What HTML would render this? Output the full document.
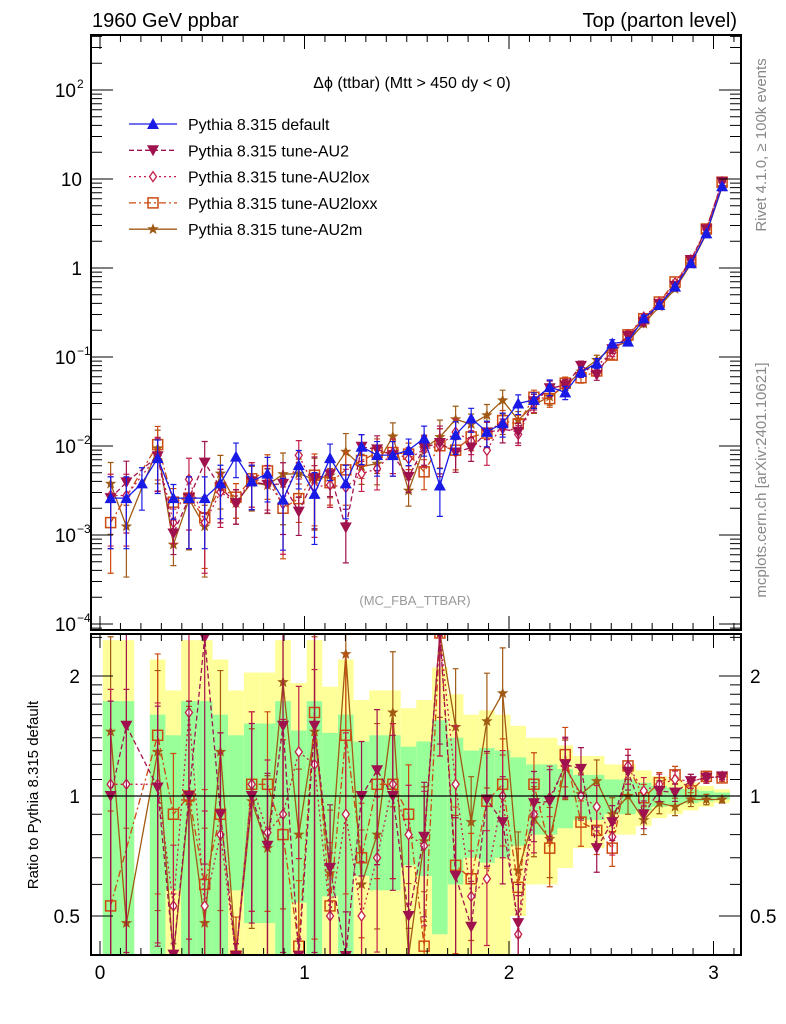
<!DOCTYPE html>
<html><head><meta charset="utf-8"><style>
html,body{margin:0;background:#fff;overflow:hidden;width:786px;height:1024px}
svg{display:block;font-family:"Liberation Sans",sans-serif}
</style></head><body>
<svg id="c" width="786" height="1024" viewBox="0 0 786 1024">
<defs>
<clipPath id="cm"><rect x="91" y="35" width="650" height="595"/></clipPath>
<clipPath id="cr"><rect x="91" y="634" width="650" height="321"/></clipPath>
</defs>
<g id="bands" clip-path="url(#cr)"></g>
<g id="marks"></g>
<g id="axes"></g>
<text x="92" y="27" font-size="20">1960 GeV ppbar</text>
<text x="737" y="27" font-size="20" text-anchor="end">Top (parton level)</text>
<text x="412" y="88" font-size="16" text-anchor="middle">Δϕ (ttbar) (Mtt &gt; 450 dy &lt; 0)</text>
<text x="415" y="605" font-size="13" fill="#999" text-anchor="middle">(MC_FBA_TTBAR)</text>
<text transform="translate(766,145) rotate(-90)" font-size="15" fill="#888" text-anchor="middle">Rivet 4.1.0, ≥ 100k events</text>
<text transform="translate(766,480) rotate(-90)" font-size="15" fill="#888" text-anchor="middle">mcplots.cern.ch [arXiv:2401.10621]</text>
<text transform="translate(38,795) rotate(-90)" font-size="15" text-anchor="middle">Ratio to Pythia 8.315 default</text>
<g id="legend"></g>
</svg>
<script>
const xCenters=[0.052,0.129,0.205,0.282,0.359,0.435,0.512,0.589,0.665,0.742,0.819,0.895,0.972,1.049,1.125,1.202,1.279,1.355,1.432,1.509,1.585,1.662,1.739,1.815,1.892,1.969,2.045,2.122,2.199,2.275,2.352,2.429,2.505,2.582,2.659,2.735,2.812,2.889,2.965,3.042];
const defaultVals=[2.6e-3,2.6e-3,3.8e-3,7.3e-3,2.6e-3,2.6e-3,2.6e-3,3.8e-3,7.6e-3,4.0e-3,4.9e-3,2.5e-3,6.1e-3,2.9e-3,7.3e-3,3.8e-3,9.8e-3,7.9e-3,7.9e-3,9.0e-3,1.22e-2,3.6e-3,1.34e-2,2.04e-2,1.44e-2,1.8e-2,3.0e-2,3.3e-2,4.6e-2,4.0e-2,6.8e-2,8.5e-2,0.142,0.149,0.272,0.384,0.617,1.13,2.45,8.3];
const ratioAU2=[1.0,1.5,null,1.05,0.4,1.0,2.5,0.9,0.3,1.0,0.75,1.5,0.3,1.5,0.66,0.32,1.0,1.16,1.0,0.5,0.79,3.0,0.63,0.47,0.98,0.86,0.48,0.96,0.97,1.2,1.17,0.74,0.86,1.15,0.9,1.03,1.02,1.09,1.11,1.12];
const ratioAU2lox=[1.07,1.07,null,1.07,0.53,1.62,0.53,0.8,0.3,1.07,0.81,0.9,1.29,1.2,0.5,0.9,0.5,0.7,1.07,0.8,0.75,2.8,1.07,0.56,0.62,1.0,0.45,0.9,0.99,1.19,1.0,0.94,0.79,1.19,1.03,1.07,1.1,1.09,1.11,1.12];
const ratioAU2loxx=[0.53,null,null,1.42,0.9,1.0,0.6,0.9,0.35,1.07,1.07,0.8,0.42,1.62,0.53,1.42,0.7,1.07,1.07,0.9,0.42,2.8,0.67,0.62,0.97,1.07,0.59,1.07,0.74,1.27,0.86,0.82,0.74,1.19,0.99,1.08,1.13,1.03,1.12,1.11];
const ratioAU2m=[1.45,0.48,null,1.29,0.3,0.97,0.48,1.29,0.3,0.97,0.74,1.93,0.8,1.45,0.64,2.27,0.6,0.8,1.62,0.35,0.77,3.5,1.49,0.86,1.54,1.81,0.65,0.88,0.78,1.18,1.01,1.09,0.9,1.0,0.87,0.96,0.94,0.98,0.98,0.98];
const relErr=[0.73,0.73,0,0.6,0.42,0.73,0.73,0.6,0.42,0.52,0.52,0.73,0.46,0.73,0.44,0.6,0.37,0.42,0.42,0.33,0.37,0.55,0.4,0.3,0.32,0.3,0.25,0.2,0.2,0.17,0.13,0.13,0.1,0.1,0.08,0.06,0.05,0.04,0.03,0.02];
const halfBin=0.0383;
const xTicks=[0,1,2,3];
const yTicks=[["10","2",100],["10","",10],["1","",1],["10","−1",0.1],["10","−2",0.01],["10","−3",0.001],["10","−4",0.0001]];
const rTicks=[2,1,0.5];

const NS="http://www.w3.org/2000/svg";
const X=v=>100+204.5*v;
const Ym=v=>268-89*Math.log10(v);
const Yr=r=>796-120*Math.log2(r);
const clampM=y=>Math.max(34,Math.min(631,y));
const clampR=y=>Math.max(633,Math.min(956,y));
function mk(tag,at,parent){const e=document.createElementNS(NS,tag);for(const k in at)e.setAttribute(k,at[k]);parent.appendChild(e);return e;}
const bands=document.getElementById('bands'),marks=document.getElementById('marks'),axes=document.getElementById('axes'),legend=document.getElementById('legend');

xCenters.forEach((c,i)=>{
  const e=relErr[i]; if(!e) return;
  const x0=X(c-halfBin),w=X(c+halfBin)-x0;
  const y2t=clampR(Yr(1+2*e)),y2b=(1-2*e)>0.01?clampR(Yr(1-2*e)):956;
  const r1=mk('rect',{x:x0,y:y2t,width:w,height:y2b-y2t,fill:'#ffff99'},bands);
  
  
  const y1t=clampR(Yr(1+e)),y1b=(1-e)>0.01?clampR(Yr(1-e)):956;
  const r2=mk('rect',{x:x0,y:y1t,width:w,height:y1b-y1t,fill:'#99ff99'},bands);
  
  
});

const series=[
 {name:'Pythia 8.315 default',key:'default',ratio:null,color:'#1a1ae6',dash:'',mark:'tri'},
 {name:'Pythia 8.315 tune-AU2',key:'au2',ratio:ratioAU2,color:'#a0124e',dash:'5,3',mark:'tridown'},
 {name:'Pythia 8.315 tune-AU2lox',key:'au2lox',ratio:ratioAU2lox,color:'#c41f4a',dash:'2,3',mark:'diamond'},
 {name:'Pythia 8.315 tune-AU2loxx',key:'au2loxx',ratio:ratioAU2loxx,color:'#cc4a10',dash:'7,3,2,3',mark:'square'},
 {name:'Pythia 8.315 tune-AU2m',key:'au2m',ratio:ratioAU2m,color:'#a05a14',dash:'',mark:'star'}
];
function marker(type,x,y,col,g){
  let e;
  if(type==='tri') e=mk('path',{d:`M${x},${y-6}L${x+6},${y+5}L${x-6},${y+5}Z`,fill:col},g);
  else if(type==='tridown') e=mk('path',{d:`M${x},${y+6}L${x+6},${y-5}L${x-6},${y-5}Z`,fill:col},g);
  else if(type==='diamond') e=mk('path',{d:`M${x},${y-5}L${x+3.5},${y}L${x},${y+5}L${x-3.5},${y}Z`,fill:'#fff',stroke:col,'stroke-width':1.3},g);
  else if(type==='square') e=mk('rect',{x:x-5,y:y-5,width:10,height:10,fill:'none',stroke:col,'stroke-width':1.5},g);
  else { let p='';for(let k=0;k<10;k++){const a=-Math.PI/2+k*Math.PI/5,r=k%2?2.5:6;p+=(k?'L':'M')+(x+r*Math.cos(a)).toFixed(1)+','+(y+r*Math.sin(a)).toFixed(1);} e=mk('path',{d:p+'Z',fill:col},g);}
  return e;
}
series.slice().reverse().forEach(s=>{
  const gm=mk('g',{'clip-path':'url(#cm)'},marks);
  
  
  const ptsM=[],ptsR=[];
  xCenters.forEach((c,i)=>{
    const r=s.ratio?s.ratio[i]:1;
    if(r===null) return;
    const v=defaultVals[i]*r,e=relErr[i]||0.5,x=X(c);
    ptsM.push([x,clampM(Ym(v)),v,e]);
    ptsR.push([x,clampR(Yr(r)),r,e]);
  });
  const at={fill:'none',stroke:s.color,'stroke-width':1.3};if(s.dash)at['stroke-dasharray']=s.dash;
  const dm=ptsM.map((p,k)=>(k?'L':'M')+p[0].toFixed(1)+','+p[1].toFixed(1)).join('');
  const lm=mk('path',Object.assign({d:dm},at),gm);
  
  
  ptsM.forEach(p=>{
    const v=p[2],e=p[3];
    const yt=clampM(Ym(v*(1+e))),yb=(1-e)>0.02?clampM(Ym(v*(1-e))):631;
    const eb=mk('path',{d:`M${p[0]},${yt}L${p[0]},${yb}M${p[0]-3},${yt}L${p[0]+3},${yt}M${p[0]-3},${yb}L${p[0]+3},${yb}`,stroke:s.color,'stroke-width':1.2,fill:'none'},gm);
    
    
    const m=marker(s.mark,p[0],p[1],s.color,gm);
    
    
  });
  if(!s.ratio) return;
  const gr=mk('g',{'clip-path':'url(#cr)'},marks);
  
  
  const dr=ptsR.map((p,k)=>(k?'L':'M')+p[0].toFixed(1)+','+p[1].toFixed(1)).join('');
  const lr=mk('path',Object.assign({d:dr},at),gr);
  
  
  ptsR.forEach(p=>{
    const r=p[2],e=p[3];
    const yt=clampR(Yr(r*(1+e))),yb=(1-e)>0.02?clampR(Yr(r*(1-e))):956;
    const eb=mk('path',{d:`M${p[0]},${yt}L${p[0]},${yb}M${p[0]-3},${yt}L${p[0]+3},${yt}M${p[0]-3},${yb}L${p[0]+3},${yb}`,stroke:s.color,'stroke-width':1.2,fill:'none'},gr);
    
    
    const m=marker(s.mark,p[0],p[1],s.color,gr);
    
    
  });
});
const one=mk('line',{x1:91,x2:741,y1:Yr(1),y2:Yr(1),stroke:'#000','stroke-width':1.3},marks);



const f1=mk('rect',{x:91,y:35,width:650,height:595,fill:'none',stroke:'#000','stroke-width':2},axes);


const f2=mk('rect',{x:91,y:634,width:650,height:321,fill:'none',stroke:'#000','stroke-width':2},axes);


for(let k=0;k<=31;k++){
  const v=k/10,x=X(v),big=k%10===0,L=big?14:7;
  const t=mk('path',{d:`M${x},35L${x},${35+L}M${x},630L${x},${630-L}M${x},634L${x},${634+L}M${x},955L${x},${955-L}`,stroke:'#000','stroke-width':1},axes);
  
  
}
xTicks.forEach(v=>{
  const t=mk('text',{x:X(v),y:979,'font-size':19,'text-anchor':'middle'},axes);t.textContent=v;
  
  
});
for(let d=-5;d<=2;d++)for(let m=1;m<10;m++){
  const v=m*Math.pow(10,d),y=Ym(v);if(y<36||y>629)continue;
  const L=m===1?22:11;
  const t=mk('path',{d:`M91,${y}L${91+L},${y}M741,${y}L${741-L},${y}`,stroke:'#000','stroke-width':1},axes);
  
  
}
yTicks.forEach(([b,e,v])=>{
  const y=Ym(v)+7;
  const t=mk('text',{x:e?76:82,y:y,'font-size':19,'text-anchor':'end'},axes);t.textContent=b;
  
  
  if(e){const s=mk('text',{x:77,y:y-9,'font-size':12},axes);s.textContent=e;
  
  }
});
[0.4,0.5,0.6,0.7,0.8,0.9,1,1.1,1.2,1.3,1.4,1.5,1.6,1.7,1.8,1.9,2,2.5].forEach(r=>{
  const y=Yr(r);if(y<635||y>954)return;const big=(r===0.5||r===1||r===2),L=big?22:11;
  const t=mk('path',{d:`M91,${y}L${91+L},${y}M741,${y}L${741-L},${y}`,stroke:'#000','stroke-width':1},axes);
  
  
});
rTicks.forEach(r=>{
  const y=Yr(r)+7;
  const t=mk('text',{x:80,y:y,'font-size':19,'text-anchor':'end'},axes);t.textContent=r;
  
  
  const t2=mk('text',{x:750,y:y,'font-size':19},axes);t2.textContent=r;
  
  
});
series.forEach((s,i)=>{
  const y=124+i*26.3;
  const g=mk('g',{},legend);
  
  
  const at={x1:129,x2:177,y1:y,y2:y,stroke:s.color,'stroke-width':1.3};if(s.dash)at['stroke-dasharray']=s.dash;
  mk('line',at,g);
  marker(s.mark,153,y,s.color,g);
  const t=mk('text',{x:188,y:y+6,'font-size':16},g);t.textContent=s.name;
});
</script>
</body></html>
